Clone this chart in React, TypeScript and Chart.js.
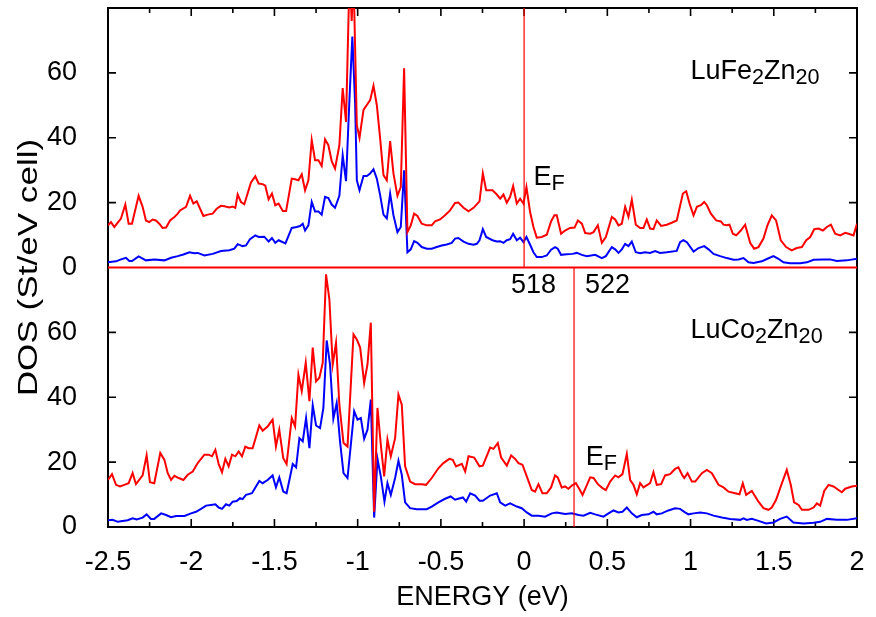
import React, { useEffect, useRef } from 'react';
import { Chart, registerables } from 'chart.js';

Chart.register(...registerables);

// ---- data (energy eV, DOS states/eV cell) ----
const lufeRed: number[][] = [
  [-2.5,13.0],[-2.482,14.0],[-2.462,12.5],[-2.422,15.1],[-2.396,19.4],[-2.376,13.5],[-2.356,13.5],[-2.316,22.1],[-2.292,18.7],[-2.272,14.5],[-2.252,14.0],[-2.232,14.8],[-2.212,14.5],[-2.192,13.5],[-2.172,12.2],[-2.151,12.3],[-2.127,14.5],[-2.101,15.6],[-2.081,16.6],[-2.067,17.6],[-2.031,18.7],[-2.007,22.1],[-1.987,19.7],[-1.967,20.4],[-1.927,15.9],[-1.901,16.3],[-1.871,16.6],[-1.847,18.1],[-1.821,19.0],[-1.801,18.9],[-1.771,18.5],[-1.751,18.8],[-1.735,18.4],[-1.721,22.5],[-1.701,20.2],[-1.681,19.5],[-1.641,26.2],[-1.615,28.1],[-1.595,25.9],[-1.571,25.7],[-1.555,25.2],[-1.535,21.0],[-1.515,22.8],[-1.495,19.2],[-1.475,19.7],[-1.45,17.4],[-1.43,17.4],[-1.396,27.4],[-1.376,27.2],[-1.356,26.9],[-1.336,28.7],[-1.316,23.8],[-1.296,26.9],[-1.276,39.3],[-1.256,33.1],[-1.236,33.1],[-1.216,31.3],[-1.196,39.5],[-1.176,37.7],[-1.156,32.8],[-1.136,30.5],[-1.11,37.7],[-1.09,55.3],[-1.07,44.9],[-1.048,92],[-1.036,76],[-1.025,90],[-1.005,43.9],[-0.989,40.0],[-0.965,48.6],[-0.945,50.1],[-0.925,51.6],[-0.905,56.0],[-0.885,50.1],[-0.865,39.8],[-0.845,28.5],[-0.825,26.9],[-0.805,39.0],[-0.785,29.0],[-0.761,22.1],[-0.741,24.8],[-0.721,61.4],[-0.701,10.9],[-0.681,13.0],[-0.661,16.6],[-0.641,15.9],[-0.615,13.5],[-0.585,13.0],[-0.555,13.0],[-0.535,14.2],[-0.505,14.8],[-0.475,16.1],[-0.445,17.6],[-0.415,19.9],[-0.395,20.0],[-0.364,18.4],[-0.334,17.3],[-0.304,18.4],[-0.268,20.4],[-0.248,29.0],[-0.228,23.8],[-0.19,23.8],[-0.164,22.5],[-0.144,21.2],[-0.124,22.5],[-0.104,20.0],[-0.084,21.8],[-0.066,25.1],[-0.044,19.7],[-0.024,21.2],[-0.004,19.7],[0.014,24.8],[0.036,17.1],[0.056,12.5],[0.076,9.2],[0.106,9.4],[0.136,10.1],[0.162,14.2],[0.182,16.1],[0.196,16.1],[0.222,10.4],[0.246,11.4],[0.276,12.2],[0.303,12.3],[0.323,14.5],[0.347,13.5],[0.367,10.6],[0.397,10.4],[0.417,10.9],[0.443,13.0],[0.467,7.6],[0.491,9.4],[0.527,15.6],[0.547,14.8],[0.567,13.0],[0.587,13.5],[0.607,18.7],[0.627,15.6],[0.647,20.9],[0.671,13.2],[0.697,12.2],[0.717,12.2],[0.737,14.8],[0.757,12.0],[0.777,11.8],[0.797,14.5],[0.823,12.8],[0.857,13.2],[0.887,13.8],[0.917,14.5],[0.954,22.8],[0.974,23.5],[0.994,19.7],[1.018,16.1],[1.038,18.7],[1.062,19.2],[1.082,20.2],[1.098,19.2],[1.122,16.6],[1.154,14.5],[1.182,14.2],[1.198,13.2],[1.218,13.0],[1.234,13.2],[1.254,10.4],[1.274,9.9],[1.302,11.4],[1.328,13.2],[1.358,7.6],[1.382,5.8],[1.408,6.3],[1.438,8.9],[1.462,13.0],[1.488,16.1],[1.514,14.5],[1.542,8.4],[1.574,6.3],[1.608,5.3],[1.638,6.0],[1.669,6.3],[1.695,8.4],[1.719,9.4],[1.743,11.8],[1.769,12.0],[1.795,11.4],[1.819,12.5],[1.843,13.2],[1.869,10.4],[1.899,9.9],[1.929,10.7],[1.949,10.4],[1.979,9.9],[2.0,13.5]
];

const lufeBlue: number[][] = [
  [-2.5,1.6],[-2.452,1.9],[-2.422,2.5],[-2.392,3.0],[-2.372,2.0],[-2.356,2.0],[-2.316,3.4],[-2.272,2.2],[-2.222,2.5],[-2.161,2.2],[-2.121,3.0],[-2.081,3.5],[-2.047,4.0],[-2.011,4.7],[-1.981,4.4],[-1.961,4.5],[-1.921,3.7],[-1.871,4.2],[-1.821,5.1],[-1.771,5.3],[-1.741,5.8],[-1.721,7.2],[-1.691,6.6],[-1.671,6.8],[-1.647,8.7],[-1.615,9.9],[-1.595,9.4],[-1.561,9.5],[-1.535,8.0],[-1.515,9.1],[-1.495,7.6],[-1.475,8.4],[-1.434,7.4],[-1.396,12.2],[-1.366,12.5],[-1.346,12.8],[-1.33,13.5],[-1.316,11.4],[-1.296,13.0],[-1.276,20.2],[-1.256,17.3],[-1.236,17.3],[-1.216,16.3],[-1.196,21.8],[-1.176,21.4],[-1.156,19.4],[-1.136,18.4],[-1.11,22.1],[-1.09,34.6],[-1.07,26.6],[-1.05,51.1],[-1.032,71.2],[-1.015,50.1],[-1.005,26.9],[-0.989,23.8],[-0.965,28.2],[-0.945,28.2],[-0.925,29.0],[-0.905,30.3],[-0.885,27.4],[-0.865,22.3],[-0.845,16.3],[-0.825,15.1],[-0.805,22.8],[-0.785,16.1],[-0.761,10.9],[-0.741,12.5],[-0.721,30.0],[-0.701,4.7],[-0.681,5.6],[-0.661,8.1],[-0.641,7.6],[-0.615,6.3],[-0.585,5.8],[-0.555,5.8],[-0.525,6.3],[-0.495,6.8],[-0.465,7.1],[-0.435,7.6],[-0.415,8.9],[-0.395,9.1],[-0.364,8.0],[-0.334,7.3],[-0.304,7.0],[-0.284,7.3],[-0.268,8.4],[-0.248,11.8],[-0.228,9.4],[-0.19,8.4],[-0.164,8.0],[-0.144,8.1],[-0.124,7.6],[-0.104,8.4],[-0.084,8.7],[-0.066,10.4],[-0.044,8.4],[-0.024,9.2],[-0.004,7.8],[0.014,9.4],[0.036,7.0],[0.056,4.7],[0.076,3.2],[0.106,3.2],[0.136,3.7],[0.162,5.5],[0.186,6.3],[0.202,5.8],[0.222,3.9],[0.256,4.1],[0.29,4.2],[0.317,4.5],[0.347,3.9],[0.377,3.5],[0.427,3.9],[0.467,2.9],[0.491,3.5],[0.527,6.3],[0.547,5.6],[0.567,4.5],[0.587,5.6],[0.607,7.3],[0.627,6.6],[0.647,8.0],[0.671,4.7],[0.697,4.4],[0.727,4.7],[0.757,4.5],[0.787,5.1],[0.817,4.5],[0.857,4.7],[0.917,5.1],[0.937,7.8],[0.957,8.4],[0.978,7.8],[1.018,4.9],[1.048,6.0],[1.082,6.6],[1.108,5.6],[1.138,4.2],[1.178,3.5],[1.218,2.9],[1.258,2.4],[1.288,2.5],[1.318,2.9],[1.348,1.6],[1.378,1.4],[1.428,1.9],[1.462,2.7],[1.498,3.5],[1.528,2.7],[1.558,1.6],[1.598,1.3],[1.659,1.3],[1.699,1.6],[1.739,2.4],[1.799,2.5],[1.839,2.5],[1.879,2.0],[1.939,2.2],[2.0,2.7]
];

const lucoRed: number[][] = [
  [-2.5,14.5],[-2.476,16.3],[-2.452,13.0],[-2.428,12.5],[-2.402,13.0],[-2.376,13.5],[-2.352,16.6],[-2.332,13.2],[-2.292,15.9],[-2.268,22.1],[-2.248,13.8],[-2.222,13.5],[-2.186,22.8],[-2.161,20.7],[-2.141,16.6],[-2.121,14.5],[-2.101,15.8],[-2.075,15.1],[-2.047,14.5],[-2.021,16.1],[-1.991,17.1],[-1.961,19.7],[-1.921,22.3],[-1.895,22.3],[-1.875,21.8],[-1.855,23.8],[-1.835,19.4],[-1.815,16.9],[-1.795,21.0],[-1.775,18.7],[-1.755,22.3],[-1.735,21.8],[-1.715,23.3],[-1.695,21.8],[-1.675,24.8],[-1.655,24.3],[-1.631,24.3],[-1.591,31.3],[-1.571,29.7],[-1.541,31.0],[-1.511,33.1],[-1.491,24.8],[-1.471,30.0],[-1.447,21.2],[-1.427,19.4],[-1.396,33.6],[-1.376,31.0],[-1.356,47.0],[-1.336,41.9],[-1.312,50.6],[-1.29,38.8],[-1.27,55.3],[-1.25,44.9],[-1.23,46.0],[-1.21,50.6],[-1.19,77.9],[-1.17,70.2],[-1.15,50.1],[-1.13,56.8],[-1.11,37.7],[-1.085,25.9],[-1.061,24.8],[-1.025,59.4],[-1.005,57.8],[-0.985,55.3],[-0.961,44.4],[-0.941,50.1],[-0.921,63.0],[-0.901,4.7],[-0.881,36.7],[-0.861,25.4],[-0.841,15.6],[-0.821,26.9],[-0.801,21.8],[-0.775,27.4],[-0.755,40.8],[-0.735,37.7],[-0.715,18.7],[-0.685,14.0],[-0.655,13.2],[-0.615,13.2],[-0.589,13.0],[-0.555,15.1],[-0.515,18.1],[-0.485,19.7],[-0.449,21.0],[-0.429,20.7],[-0.409,18.7],[-0.374,19.5],[-0.354,17.1],[-0.334,21.8],[-0.3,21.4],[-0.268,18.7],[-0.248,18.9],[-0.204,24.5],[-0.184,24.1],[-0.158,25.9],[-0.138,21.4],[-0.104,18.9],[-0.078,22.1],[-0.054,21.0],[-0.034,19.7],[-0.01,19.2],[0.016,15.6],[0.046,11.4],[0.066,10.9],[0.086,13.2],[0.11,10.4],[0.136,10.4],[0.162,12.2],[0.186,15.9],[0.202,15.3],[0.226,12.2],[0.246,12.5],[0.266,11.8],[0.287,12.8],[0.311,13.5],[0.331,11.8],[0.351,9.9],[0.371,12.2],[0.397,15.3],[0.417,15.1],[0.443,13.2],[0.471,12.0],[0.491,11.4],[0.517,14.0],[0.547,15.9],[0.567,15.3],[0.591,16.3],[0.617,22.5],[0.637,14.5],[0.657,13.0],[0.677,10.1],[0.697,13.5],[0.717,12.2],[0.757,13.5],[0.777,16.9],[0.797,13.0],[0.823,13.2],[0.847,15.9],[0.877,16.3],[0.907,17.9],[0.927,18.4],[0.951,15.9],[0.962,15.1],[0.982,16.6],[1.008,14.0],[1.028,14.0],[1.068,16.6],[1.098,17.6],[1.128,16.6],[1.168,13.0],[1.198,12.2],[1.228,10.9],[1.268,10.4],[1.294,10.1],[1.314,13.5],[1.334,9.9],[1.368,11.1],[1.408,7.8],[1.438,5.8],[1.468,5.3],[1.488,6.0],[1.514,8.4],[1.542,12.5],[1.578,17.6],[1.602,13.0],[1.622,7.6],[1.649,6.8],[1.669,5.3],[1.709,5.3],[1.739,6.0],[1.759,7.3],[1.779,6.6],[1.803,11.1],[1.829,13.0],[1.859,12.5],[1.889,11.4],[1.909,10.7],[1.929,11.8],[1.969,12.5],[2.0,12.7]
];

const lucoBlue: number[][] = [
  [-2.5,2.1],[-2.472,2.2],[-2.442,1.6],[-2.382,2.1],[-2.352,2.7],[-2.328,2.3],[-2.292,2.9],[-2.268,3.9],[-2.242,2.5],[-2.222,2.5],[-2.181,4.2],[-2.151,3.7],[-2.121,3.0],[-2.091,3.4],[-2.041,3.4],[-2.001,4.2],[-1.971,4.7],[-1.941,5.6],[-1.911,6.6],[-1.881,6.8],[-1.855,7.0],[-1.835,6.0],[-1.815,5.6],[-1.791,7.0],[-1.771,6.6],[-1.751,7.8],[-1.727,8.0],[-1.707,8.9],[-1.691,8.6],[-1.671,9.9],[-1.635,10.4],[-1.591,14.2],[-1.571,13.5],[-1.541,14.5],[-1.511,15.9],[-1.491,12.2],[-1.471,15.3],[-1.447,10.9],[-1.427,10.4],[-1.39,19.4],[-1.37,18.4],[-1.35,27.4],[-1.33,26.4],[-1.31,33.6],[-1.29,24.3],[-1.27,37.5],[-1.25,31.3],[-1.226,30.5],[-1.206,36.7],[-1.186,57.5],[-1.166,50.1],[-1.146,33.4],[-1.126,38.2],[-1.106,26.4],[-1.085,16.6],[-1.061,15.1],[-1.021,35.7],[-1.001,33.1],[-0.981,33.6],[-0.961,27.2],[-0.941,30.0],[-0.921,39.3],[-0.901,2.9],[-0.881,21.0],[-0.861,15.6],[-0.839,7.8],[-0.821,13.5],[-0.801,9.9],[-0.775,15.1],[-0.755,20.4],[-0.735,16.1],[-0.715,7.6],[-0.685,5.8],[-0.645,5.5],[-0.585,5.5],[-0.555,6.3],[-0.515,7.6],[-0.475,8.7],[-0.441,9.4],[-0.415,8.4],[-0.395,8.7],[-0.368,9.1],[-0.348,7.8],[-0.324,10.4],[-0.294,9.7],[-0.268,8.1],[-0.248,8.1],[-0.204,9.7],[-0.164,10.4],[-0.144,7.6],[-0.114,6.6],[-0.084,7.3],[-0.044,6.3],[-0.014,5.8],[0.016,4.5],[0.046,3.5],[0.086,3.5],[0.126,3.2],[0.166,4.2],[0.196,4.5],[0.246,4.0],[0.287,4.2],[0.327,3.7],[0.357,3.5],[0.397,4.4],[0.427,3.9],[0.477,3.2],[0.507,4.2],[0.537,5.1],[0.567,4.5],[0.591,4.7],[0.617,6.0],[0.647,4.2],[0.677,3.0],[0.707,3.7],[0.747,3.9],[0.777,4.7],[0.797,3.9],[0.827,4.2],[0.867,5.1],[0.907,5.8],[0.937,5.6],[0.967,4.5],[0.987,3.9],[1.018,4.2],[1.058,4.5],[1.098,4.2],[1.138,3.5],[1.188,2.9],[1.238,2.5],[1.298,2.2],[1.318,2.7],[1.338,2.2],[1.368,2.5],[1.408,1.9],[1.454,1.1],[1.498,1.4],[1.538,2.5],[1.578,3.2],[1.618,1.4],[1.679,1.1],[1.739,1.3],[1.779,1.6],[1.819,2.5],[1.879,2.2],[1.939,2.2],[2.0,2.7]
];

const xTickValues = [-2.5, -2, -1.5, -1, -0.5, 0, 0.5, 1, 1.5, 2];
const yTickValues = [0, 20, 40, 60];
const fermiLevels = [0, 0.3]; // top panel, bottom panel
const electronCounts = ['518', '522'];
const electronCountPos = [0.057, 0.501];
const compoundLabels = [['LuFe', '2', 'Zn', '20'], ['LuCo', '2', 'Zn', '20']];
const efLabelPos = [[0.057, 25.4], [0.37, 19.1]];

const FONT = '"Liberation Sans", Arial, Helvetica, sans-serif';
const FS = 27;

function drawSub(ctx: CanvasRenderingContext2D, parts: string[], x: number, y: number) {
  let cx = x;
  parts.forEach((p, i) => {
    const sub = i % 2 === 1;
    ctx.font = `${sub ? FS * 0.8 : FS}px ${FONT}`;
    ctx.fillText(p, cx, sub ? y + 5 : y);
    cx += ctx.measureText(p).width;
  });
}

const decor = {
  id: 'decor',
  beforeDatasetsDraw(chart: any) {
    const { ctx, chartArea: a, scales } = chart;
    const x = scales.x, yTop = scales.yTop, yBot = scales.yBot;
    ctx.save();
    ctx.strokeStyle = '#000';
    ctx.lineWidth = 1.6;
    ctx.beginPath();
    for (let i = 0; i <= 18; i++) {
      const v = -2.5 + i * 0.25;
      const px = x.getPixelForValue(v);
      const len = i % 2 === 0 ? 8 : 5;
      ctx.moveTo(px, a.bottom); ctx.lineTo(px, a.bottom - len);
      ctx.moveTo(px, a.top); ctx.lineTo(px, a.top + len);
    }
    for (const s of [yTop, yBot]) {
      for (const v of [20, 40, 60]) {
        const py = s.getPixelForValue(v);
        ctx.moveTo(a.left, py); ctx.lineTo(a.left + 8, py);
        ctx.moveTo(a.right, py); ctx.lineTo(a.right - 8, py);
      }
    }
    ctx.stroke();
    ctx.lineWidth = 2;
    ctx.strokeRect(a.left, a.top, a.right - a.left, a.bottom - a.top);
    // y title spanning both panels
    ctx.fillStyle = '#000';
    ctx.font = `${FS}px ${FONT}`;
    ctx.translate(30, (a.top + a.bottom) / 2);
    ctx.rotate(-Math.PI / 2);
    ctx.scale(1.3, 1);
    ctx.textAlign = 'center';
    ctx.textBaseline = 'middle';
    ctx.fillText('DOS (St/eV cell)', 0, 0);
    ctx.restore();
  },
  afterDatasetsDraw(chart: any) {
    const { ctx, chartArea: a, scales } = chart;
    const x = scales.x, yTop = scales.yTop, yBot = scales.yBot;
    const y0 = yTop.getPixelForValue(0);
    ctx.save();
    ctx.strokeStyle = '#ff0000';
    ctx.lineWidth = 2;
    ctx.beginPath();
    ctx.moveTo(a.left, y0); ctx.lineTo(a.right, y0);
    ctx.stroke();
    ctx.lineWidth = 1.2;
    ctx.beginPath();
    const f0 = x.getPixelForValue(fermiLevels[0]);
    ctx.moveTo(f0, a.top); ctx.lineTo(f0, y0);
    const f1 = x.getPixelForValue(fermiLevels[1]);
    ctx.moveTo(f1, y0); ctx.lineTo(f1, a.bottom);
    ctx.stroke();

    ctx.fillStyle = '#000';
    ctx.textBaseline = 'alphabetic';
    ctx.font = `${FS}px ${FONT}`;
    ctx.textAlign = 'center';
    electronCounts.forEach((t, i) => {
      ctx.fillText(t, x.getPixelForValue(electronCountPos[i]), yBot.getPixelForValue(72.1));
    });
    ctx.textAlign = 'left';
    const panels = [yTop, yBot];
    compoundLabels.forEach((parts, i) => {
      drawSub(ctx, parts, x.getPixelForValue(1.0), panels[i].getPixelForValue(58.2));
    });
    efLabelPos.forEach((p, i) => {
      drawSub(ctx, ['E', 'F'], x.getPixelForValue(p[0]), panels[i].getPixelForValue(p[1]));
    });
    ctx.restore();
  },
};

export default function App() {
  const ref = useRef<HTMLCanvasElement>(null);
  useEffect(() => {
    const canvas = ref.current!;
    const mk = (d: number[][], color: string, axis: string) => ({
      data: d.map(([x, y]) => ({ x, y })),
      borderColor: color,
      backgroundColor: color,
      borderWidth: 2,
      pointRadius: 0,
      tension: 0,
      fill: false,
      yAxisID: axis,
    });
    const yScale = () => ({
      type: 'linear' as const,
      position: 'left' as const,
      stack: 'dos',
      stackWeight: 1,
      min: 0,
      max: 80,
      grid: { display: false },
      border: { display: false },
      afterBuildTicks: (s: any) => { s.ticks = yTickValues.map((v) => ({ value: v })); },
      ticks: { color: '#000', font: { family: FONT, size: FS }, padding: 23, callback: (v: any) => String(v) },
      afterFit: (s: any) => { s.width = 108; s.paddingTop = 0; s.paddingBottom = 0; },
    });
    const chart = new Chart(canvas, {
      type: 'line',
      data: {
        datasets: [
          mk(lufeRed, '#ff0000', 'yTop'),
          mk(lufeBlue, '#0000ff', 'yTop'),
          mk(lucoRed, '#ff0000', 'yBot'),
          mk(lucoBlue, '#0000ff', 'yBot'),
        ] as any,
      },
      options: {
        responsive: false,
        animation: false,
        events: [],
        layout: { padding: { top: 8, right: 19, left: 0, bottom: 0 } },
        plugins: { legend: { display: false }, tooltip: { enabled: false } },
        scales: {
          x: {
            type: 'linear',
            min: -2.5,
            max: 2,
            grid: { display: false },
            border: { display: false },
            afterBuildTicks: (s: any) => { s.ticks = xTickValues.map((v) => ({ value: v })); },
            ticks: { color: '#000', font: { family: FONT, size: FS }, padding: 11, maxRotation: 0, autoSkip: false, callback: (v: any) => String(v) },
            title: { display: true, text: 'ENERGY (eV)', color: '#000', font: { family: FONT, size: FS }, padding: { top: 0, bottom: 3 } },
            afterFit: (s: any) => { s.height = 90; s.paddingLeft = 0; s.paddingRight = 0; },
          },
          yBot: yScale(),
          yTop: yScale(),
        } as any,
      },
      plugins: [decor],
    });
    return () => chart.destroy();
  }, []);
  return (
    <div style={{ position: 'absolute', left: 0, top: 0, width: 876, height: 617, background: '#fff' }}>
      <canvas ref={ref} width={876} height={617} style={{ display: 'block' }} />
    </div>
  );
}
